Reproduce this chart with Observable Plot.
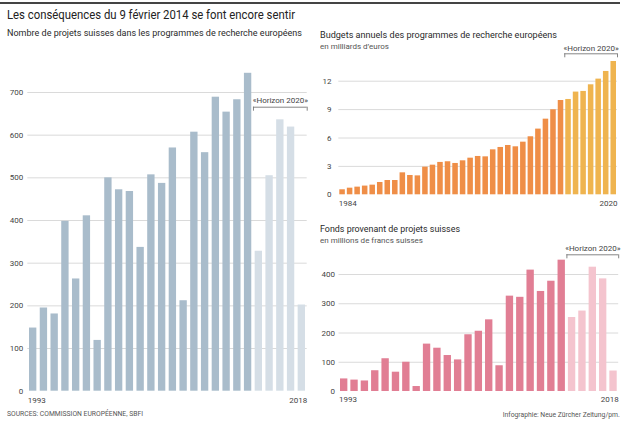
<!DOCTYPE html>
<html>
<head>
<meta charset="utf-8">
<script src="https://cdn.jsdelivr.net/npm/d3@7"></script>
<script src="https://cdn.jsdelivr.net/npm/@observablehq/plot@0.6"></script>
<style>
  body { margin: 0; background: #fff; }
  #wrap { position: relative; width: 626px; height: 425px; overflow: hidden; font-family: Roboto, "Liberation Sans", sans-serif; color: #222; }
  #wrap svg { position: absolute; left: 0; top: 0; }
  .t { position: absolute; white-space: nowrap; line-height: 1; transform-origin: 0 50%; }
  .r { transform-origin: 100% 50%; }
  #rule { position: absolute; left: 0; top: 2px; width: 620px; height: 1.5px; background: #444; }
</style>
</head>
<body>
<div id="wrap"><div id="rule"></div></div>
<script>
// ---- Data ----
const projectYears = [1993,1994,1995,1996,1997,1998,1999,2000,2001,2002,2003,2004,2005,2006,2007,2008,2009,2010,2011,2012,2013,2014,2015,2016,2017,2018];
const projectValues = [148,195,181,398,263,411,119,500,472,468,337,507,487,570,212,607,559,689,654,683,745,328,505,636,619,202];
const projectTicks = [0,100,200,300,400,500,600,700];
const projectXLabels = ["1993","2018"];

const budgetYears = [1984,1985,1986,1987,1988,1989,1990,1991,1992,1993,1994,1995,1996,1997,1998,1999,2000,2001,2002,2003,2004,2005,2006,2007,2008,2009,2010,2011,2012,2013,2014,2015,2016,2017,2018,2019,2020];
const budgetValues = [0.53,0.7,0.81,0.92,1.02,1.3,1.51,1.51,2.32,2.04,2.0,2.92,3.13,3.42,3.49,3.31,3.59,3.87,4.05,4.01,4.75,5.0,5.21,5.07,5.56,6.13,6.94,7.99,8.98,9.96,10.07,10.85,10.92,11.62,12.22,13.03,14.08];
const budgetTicks = [0,3,6,9,12];
const budgetXLabels = ["1984","2020"];

const fundYears = [1992,1993,1994,1995,1996,1997,1998,1999,2000,2001,2002,2003,2004,2005,2006,2007,2008,2009,2010,2011,2012,2013,2014,2015,2016,2017,2018];
const fundValues = [43,39,36,71,112,66,100,17,162,148,123,108,194,206,245,88,326,322,415,342,377,449,253,275,425,385,70];
const fundTicks = [0,100,200,300,400];
const fundXLabels = ["1993","2018"];

const horizonStart = 2014;
const horizonLabel = "«Horizon 2020»";

// ---- Texts ----
const texts = [
  {s: "Les conséquences du 9 février 2014 se font encore sentir", x: 7, cy: 15, f: 12, w: 288, c: "#222"},
  {s: "Nombre de projets suisses dans les programmes de recherche européens", x: 7, cy: 33.3, f: 9.5, w: 295, c: "#2a2a2a"},
  {s: "Budgets annuels des programmes de recherche européens", x: 320, cy: 35, f: 9.5, w: 237, c: "#2a2a2a"},
  {s: "en milliards d’euros", x: 320, cy: 46.7, f: 8, w: 69, c: "#555"},
  {s: "Fonds provenant de projets suisses", x: 320, cy: 229, f: 9.5, w: 140, c: "#2a2a2a"},
  {s: "en millions de francs suisses", x: 320, cy: 240.7, f: 8, w: 103, c: "#555"},
  {s: "SOURCES: COMMISSION EUROPÉENNE, SBFI", x: 7, cy: 415, f: 7, w: 136, c: "#555"},
  {s: "Infographie: Neue Zürcher Zeitung/pm.", x: 620, cy: 416, f: 7, w: 117, c: "#555", right: true}
];

const wrap = document.getElementById("wrap");

function chart(o) {
  const data = o.years.map((year, i) => ({year, value: o.values[i]}));
  const W = 626, H = 425;
  const yMax = o.yTicks[o.yTicks.length - 1];
  const k = (H - o.mt - o.mb) / yMax;
  const v = px => yMax - px / k;
  const first = o.years[0] - 0.5;
  const last = o.years[o.years.length - 1] + 0.5;
  const h0 = horizonStart - 0.5;
  const bar = {x1: d => d.year - 0.5, x2: d => d.year + 0.5, y: "value", insetLeft: o.inset, insetRight: o.inset};
  return Plot.plot({
    width: W, height: H,
    marginLeft: o.ml, marginRight: o.mr, marginTop: o.mt, marginBottom: o.mb,
    style: {background: "transparent", fontSize: "8px", fontFamily: "Roboto, sans-serif", color: "#444", overflow: "visible"},
    x: {domain: [first, last], axis: null},
    y: {domain: [0, yMax], ticks: o.yTicks, tickSize: 0, tickPadding: o.tp, label: null, tickFormat: d => String(d)},
    marks: [
      Plot.ruleY(o.yTicks.filter(t => t > 0), {stroke: "#dadada", strokeWidth: 1}),
      Plot.rectY(data.filter(d => d.year < horizonStart), {...bar, fill: o.color}),
      Plot.rectY(data.filter(d => d.year >= horizonStart), {...bar, fill: o.colorH}),
      Plot.ruleY([v(o.br)], {x1: h0, x2: last, stroke: "#777", strokeWidth: 0.9}),
      Plot.ruleX([h0, last], {y1: v(o.br), y2: v(o.br + 4), stroke: "#777", strokeWidth: 0.9}),
      Plot.text([horizonLabel], {x: (h0 + last) / 2, y: v(o.lb), fontSize: 8, fill: "#444"}),
      Plot.text([o.xLabels[0]], {x: first, frameAnchor: "bottom", dy: o.xdy, textAnchor: "start", fill: "#444"}),
      Plot.text([o.xLabels[1]], {x: last, frameAnchor: "bottom", dy: o.xdy, textAnchor: "end", fill: "#444"})
    ]
  });
}

wrap.appendChild(chart({
  years: projectYears, values: projectValues, yTicks: projectTicks, xLabels: projectXLabels,
  ml: 27.3, mr: 626 - 306.7, mt: 92, mb: 425 - 390.7, inset: 1.7, tp: 4.6, xdy: 11.3,
  br: 14.7, lb: 8, color: "#a9bccb", colorH: "#d5dee6"
}));
wrap.appendChild(chart({
  years: budgetYears, values: budgetValues, yTicks: budgetTicks, xLabels: budgetXLabels,
  ml: 338.3, mr: 626 - 617, mt: 80.7, mb: 425 - 194.3, inset: 1, tp: 7.3, xdy: 10.7,
  br: -27.4, lb: -32.4, color: "#ef8e47", colorH: "#efb44f"
}));
wrap.appendChild(chart({
  years: fundYears, values: fundValues, yTicks: fundTicks, xLabels: fundXLabels,
  ml: 338.5, mr: 626 - 618.2, mt: 274, mb: 425 - 391, inset: 1.5, tp: 4, xdy: 10.5,
  br: -19.7, lb: -25.7, color: "#e17e94", colorH: "#f4c4ce"
}));

for (const t of texts) {
  const d = document.createElement("div");
  d.className = "t" + (t.right ? " r" : "");
  d.textContent = t.s;
  d.style.fontSize = t.f + "px";
  d.style.color = t.c;
  d.style.top = (t.cy - t.f * 0.52) + "px";
  wrap.appendChild(d);
  const nat = d.getBoundingClientRect().width;
  if (t.right) d.style.left = (t.x - nat) + "px"; else d.style.left = t.x + "px";
  d.style.transform = `scaleX(${t.w / nat})`;
}
</script>
</body>
</html>
